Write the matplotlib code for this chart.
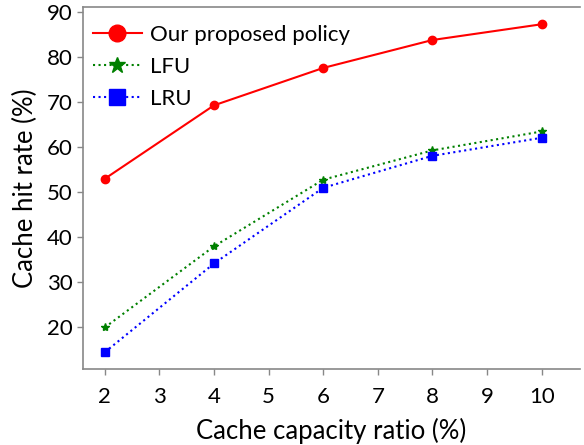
import matplotlib
matplotlib.use("Agg")
import matplotlib.pyplot as plt

plt.rcParams['font.family'] = ['Lato', 'DejaVu Sans']

x = [2, 4, 6, 8, 10]
proposed = [53.0, 69.3, 77.6, 83.8, 87.3]
lfu = [20.0, 38.0, 52.8, 59.3, 63.5]
lru = [14.5, 34.2, 51.0, 58.1, 62.1]

fig = plt.figure(figsize=(5.84, 4.45), dpi=100)
ax = fig.add_axes([0.142, 0.171, 0.851, 0.813])

ax.plot(x, proposed, '-', color='#ff0000', marker='o', markersize=6, linewidth=1.5,
        label='Our proposed policy')
ax.plot(x, lfu, ':', color='green', marker='*', markersize=6, linewidth=1.5, label='LFU')
ax.plot(x, lru, ':', color='blue', marker='s', markersize=6, linewidth=1.5, label='LRU')

ax.set_xlim(1.6, 10.7)
ax.set_ylim(10.8, 91.1)
ax.set_xticks(range(2, 11))
ax.set_yticks(range(20, 91, 10))

for s in ['left', 'bottom', 'top']:
    ax.spines[s].set_color('#888888')
    ax.spines[s].set_linewidth(1.2)
ax.spines['right'].set_visible(False)
ax.tick_params(colors='#888888', labelcolor='black', labelsize=16, length=4, width=1)
ax.tick_params(axis='x', pad=9)

ax.set_xlabel('Cache capacity ratio (%)', fontsize=18.5, labelpad=8)
ax.set_ylabel('Cache hit rate (%)', fontsize=18.5, labelpad=6)

leg = ax.legend(loc='upper left', bbox_to_anchor=(-0.005, 0.985), frameon=False,
                fontsize=16, markerscale=2, handlelength=2.2, handletextpad=0.4,
                borderaxespad=0.15, labelspacing=0.55)

fig.savefig('out.png', dpi=100)
